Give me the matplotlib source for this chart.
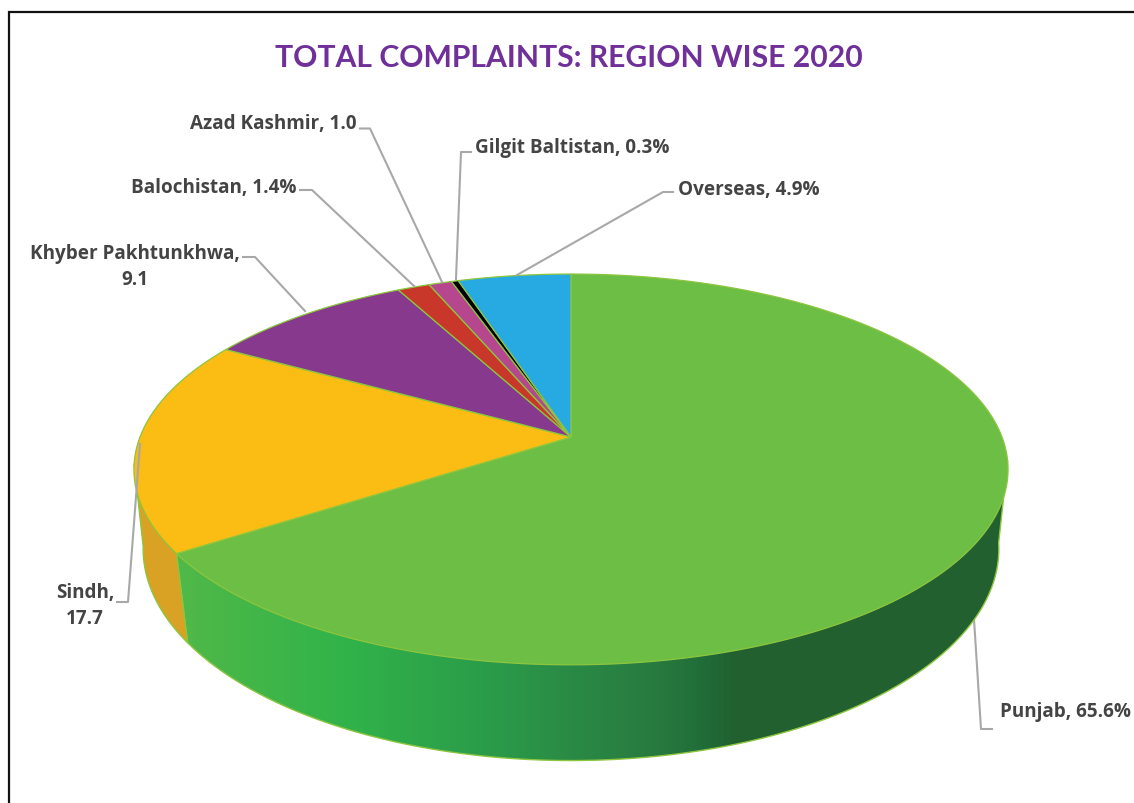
# -*- coding: utf-8 -*-
import numpy as np
import matplotlib
matplotlib.use('Agg')
import matplotlib.pyplot as plt
from matplotlib.colors import LinearSegmentedColormap
from matplotlib.patches import Polygon

regions = ['Punjab', 'Sindh', 'Khyber Pakhtunkhwa', 'Balochistan',
           'Azad Kashmir', 'Gilgit Baltistan', 'Overseas']
shares = [65.6, 17.7, 9.1, 1.4, 1.0, 0.3, 4.9]
label_texts = ['Punjab, 65.6%', 'Sindh,\n17.7', 'Khyber Pakhtunkhwa,\n9.1',
               'Balochistan, 1.4%', 'Azad Kashmir, 1.0',
               'Gilgit Baltistan, 0.3%', 'Overseas, 4.9%']
top_colors = ['#6cbe45', '#fbbc13', '#87398e', '#c9362a', '#b6478f', '#000000', '#27aae1']

RIM = '#8cc63f'
LEADER = '#a8a8a8'
TEXT = '#444444'
FONT = 'Open Sans'

# top face and lower rim of the disc, perspective projection of a circle
TOP = dict(cx=571, cy=438, a=431, b=190, k=0.166)
LOW = dict(cx=571, cy=518, a=423, b=207, k=0.15)
# angles where the wall silhouette leaves the top face
RIGHT_TURN = 97
LEFT_TURN = 262


def project(angle, disc):
    # angle in degrees, clockwise from 12 o'clock
    u = np.sin(np.radians(angle))
    v = np.cos(np.radians(angle))
    w = 1 + disc['k'] * v
    return disc['cx'] + disc['a'] * u / w, disc['cy'] - disc['b'] * v / w


def wall_outline(start, stop):
    # apex, top rim point, lower rim arc, top rim point; the top face hides the inner part
    ang = np.linspace(start, stop, 200)
    lx, ly = project(ang, LOW)
    x0, y0 = project(start, TOP)
    x1, y1 = project(stop, TOP)
    return np.column_stack([np.r_[TOP['cx'], x0, lx, x1], np.r_[TOP['cy'], y0, ly, y1]])


fig = plt.figure(figsize=(11.34, 8.04), dpi=100)
ax = fig.add_axes([0, 0, 1, 1])

# picture frame, only left and top edges are visible
ax.plot([8.5, 8.5, 1134], [804, 13, 13], color='#111111', lw=1.6, zorder=1,
        solid_joinstyle='miter')

edges = np.concatenate([[0], np.cumsum(shares)]) * 3.6

# side wall of the Punjab slice, gradient clipped to the wall shape
wall_cmap = LinearSegmentedColormap.from_list('wall', [
    (0.00, '#4eb848'), (0.19, '#31b34a'), (0.38, '#2a9a49'),
    (0.47, '#2a8a45'), (0.58, '#27793f'), (0.64, '#1f6a37'), (0.67, '#22602f'),
    (1.00, '#22602f')])
punjab_wall = Polygon(wall_outline(RIGHT_TURN, edges[1]), closed=True, facecolor='none',
                      edgecolor=RIM, lw=1.0, zorder=3)
ax.add_patch(punjab_wall)
columns = np.linspace(170, 1015, 845)
shade = np.clip((columns - 188) / (1005 - 188), 0, 1)
grad = ax.imshow(shade[None, :], cmap=wall_cmap, vmin=0, vmax=1, aspect='auto',
                 extent=[170, 1015, 780, 300], zorder=2)
grad.set_clip_path(punjab_wall)

# side wall of the Sindh slice
ax.add_patch(Polygon(wall_outline(edges[1], LEFT_TURN), closed=True, facecolor='#d9a225',
                     edgecolor=RIM, lw=1.0, zorder=3))

# leader lines
leaders = {
    'Punjab': ([992, 981, 974], [730, 730, 620]),
    'Sindh': ([117, 128, 140], [603, 603, 445]),
    'Khyber Pakhtunkhwa': ([243, 255, 305], [258, 258, 312]),
    'Balochistan': ([300, 312, 414], [191, 191, 287]),
    'Azad Kashmir': ([360, 370, 442], [129.5, 129.5, 283]),
    'Gilgit Baltistan': ([471, 461, 456], [153, 153, 280]),
    'Overseas': ([673, 663, 517], [193, 193, 276]),
}
for name in regions:
    xs, ys = leaders[name]
    z = 1.5 if name == 'Punjab' else 6
    ax.plot(xs, ys, color=LEADER, lw=1.5, zorder=z)

# top faces
for i in range(len(shares)):
    ang = np.linspace(edges[i], edges[i + 1], max(int(shares[i] * 6), 4))
    x, y = project(ang, TOP)
    ax.fill(np.r_[TOP['cx'], x], np.r_[TOP['cy'], y], facecolor=top_colors[i],
            edgecolor=RIM, lw=0.9, zorder=4, joinstyle='round')

ax.text(569, 58, 'TOTAL COMPLAINTS: REGION WISE 2020', color='#70309a', fontsize=21.7,
        fontweight='bold', family='Lato', ha='center', va='center', zorder=7)

label_pos = {
    'Punjab': (1065, 712.5),
    'Sindh': (85, 606),
    'Khyber Pakhtunkhwa': (135, 267),
    'Balochistan': (213.5, 187.5),
    'Azad Kashmir': (273, 124.5),
    'Gilgit Baltistan': (572.5, 148.5),
    'Overseas': (748.5, 190.5),
}
for name, txt in zip(regions, label_texts):
    x, y = label_pos[name]
    ax.text(x, y, txt, color=TEXT, fontsize=13.6, fontweight='bold', family=FONT,
            ha='center', va='center', linespacing=1.4, zorder=7)

ax.set_xlim(0, 1134)
ax.set_ylim(804, 0)
ax.axis('off')

fig.savefig('out.png', dpi=100)
